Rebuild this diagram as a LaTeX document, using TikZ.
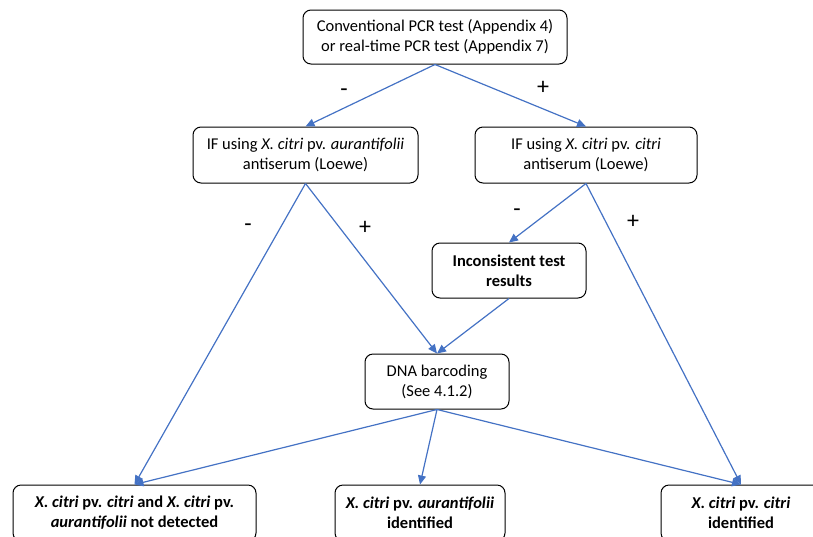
\documentclass[tikz,border=0pt]{standalone}
\usepackage{fontspec}
\setmainfont{Carlito}
\usetikzlibrary{arrows.meta}
\definecolor{arrowblue}{HTML}{4472C4}
\tikzset{
  box/.style={draw=black, line width=1pt, rounded corners=8pt, align=center,
    font=\fontsize{16.5}{20}\selectfont, inner sep=0pt},
  bbox/.style={box, font=\fontsize{16.5}{20}\selectfont\bfseries},
  conn/.style={draw=arrowblue, line width=1.2pt, -{Triangle[length=9pt,width=8pt]}},
  sign/.style={font=\fontsize{24}{24}\selectfont, inner sep=0pt}
}
\begin{document}
\begin{tikzpicture}[x=1pt,y=-1pt]
\clip (0,0) rectangle (813,536);
\useasboundingbox (0,0) rectangle (813,536);
\node[box, minimum width=264pt, minimum height=54pt] (pcr) at (435,37)
  {Conventional PCR test (Appendix 4)\\or real-time PCR test (Appendix 7)};
\node[box, minimum width=225pt, minimum height=56pt] (ifa) at (305.5,155)
  {IF using \textit{X. citri} pv. \textit{aurantifolii}\\antiserum (Loewe)};
\node[box, minimum width=222pt, minimum height=56pt] (ifc) at (586,155)
  {IF using \textit{X. citri} pv. \textit{citri}\\antiserum (Loewe)};
\node[bbox, minimum width=154pt, minimum height=55pt] (inc) at (509,270.5)
  {Inconsistent test\\results};
\node[box, minimum width=144pt, minimum height=55pt] (dna) at (437,381.5)
  {DNA barcoding\\(See 4.1.2)};
\node[bbox, minimum width=243pt, minimum height=56pt] (nd) at (134.5,513)
  {\textit{X. citri} pv. \textit{citri} and \textit{X. citri} pv.\\\textit{aurantifolii} not detected};
\node[bbox, minimum width=170pt, minimum height=56pt] (aur) at (420,513)
  {\textit{X. citri} pv. \textit{aurantifolii}\\identified};
\node[bbox, minimum width=160pt, minimum height=56pt] (cit) at (741,513)
  {\textit{X. citri} pv. \textit{citri}\\identified};

\draw[conn] (pcr.south) -- (ifa.north);
\draw[conn] (pcr.south) -- (ifc.north);
\draw[conn] (ifa.south) -- (nd.north);
\draw[conn] (ifa.south) -- (dna.north);
\draw[conn] (ifc.south) -- (inc.north);
\draw[conn] (ifc.south) -- (cit.north);
\draw[conn] (inc.south) -- (dna.north);
\draw[conn] (dna.south) -- (nd.north);
\draw[conn] (dna.south) -- (aur.north);
\draw[conn] (dna.south) -- (cit.north);

\node[sign] (s1) at (344,93) {-};
\node[sign] (s2) at (543,88) {+};
\node[sign] (s3) at (248,228) {-};
\node[sign] (s4) at (365,228) {+};
\node[sign] (s5) at (517,213) {-};
\node[sign] (s6) at (633,222) {+};
\end{tikzpicture}
\end{document}
